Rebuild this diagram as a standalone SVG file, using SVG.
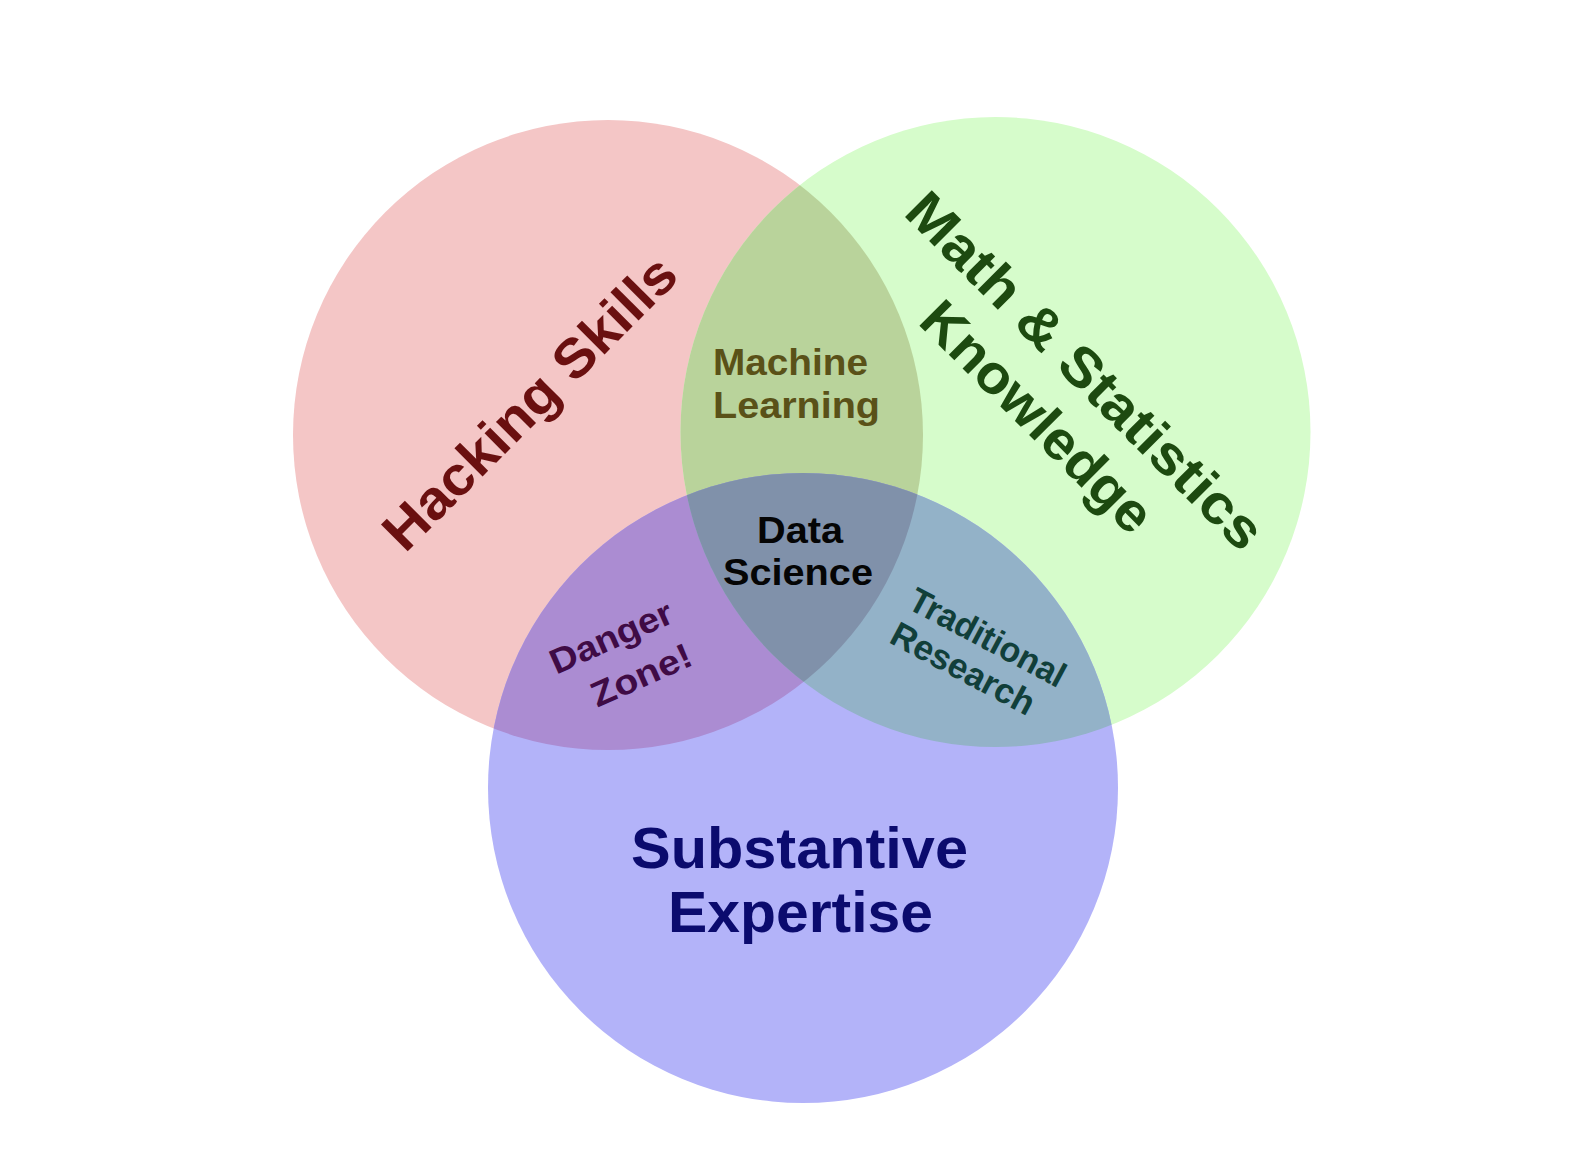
<svg xmlns="http://www.w3.org/2000/svg" width="1580" height="1172" viewBox="0 0 1580 1172">
  <style>
    text { font-family: "Liberation Sans", Arial, sans-serif; font-weight: bold; }
    .big { font-size: 55px; }
    .mid { font-size: 36px; }
    .small { font-size: 35px; }
  </style>
  <defs>
    <circle id="cR" cx="608" cy="435" r="315"/>
    <circle id="cG" cx="995.5" cy="432" r="315"/>
    <circle id="cB" cx="803" cy="788" r="315"/>
    <clipPath id="clipR"><use href="#cR"/></clipPath>
    <clipPath id="clipG"><use href="#cG"/></clipPath>
  </defs>
  <rect width="1580" height="1172" fill="#ffffff"/>

  <!-- three sets -->
  <g id="hacking">
    <use href="#cR" fill="#f4c6c6"/>
  </g>
  <g id="math">
    <use href="#cG" fill="#d6fccb"/>
  </g>
  <g id="substantive">
    <use href="#cB" fill="#b3b3f9"/>
  </g>

  <!-- pairwise overlaps -->
  <g id="machine-learning-region">
    <use href="#cG" fill="#b9d39b" clip-path="url(#clipR)"/>
  </g>
  <g id="danger-zone-region">
    <use href="#cB" fill="#ab8cd2" clip-path="url(#clipR)"/>
  </g>
  <g id="traditional-research-region">
    <use href="#cB" fill="#93b2c8" clip-path="url(#clipG)"/>
  </g>
  <!-- centre of all three -->
  <g id="data-science-region" clip-path="url(#clipG)">
    <use href="#cB" fill="#8091aa" clip-path="url(#clipR)"/>
  </g>

  <!-- labels -->
  <g id="label-hacking" transform="translate(543 416) rotate(-45)">
    <text class="big" fill="#6a1010" text-anchor="middle" textLength="390" lengthAdjust="spacingAndGlyphs">Hacking Skills</text>
  </g>
  <g id="label-math" transform="translate(1072 384) rotate(45)" fill="#1d4a10">
    <text class="big" text-anchor="middle" textLength="480" lengthAdjust="spacingAndGlyphs">Math &amp; Statistics</text>
    <text class="big" x="-1.4" y="66.5" text-anchor="middle" textLength="303" lengthAdjust="spacingAndGlyphs">Knowledge</text>
  </g>
  <g id="label-machine-learning" fill="#5a5118">
    <text class="mid" x="713" y="375" textLength="155" lengthAdjust="spacingAndGlyphs">Machine</text>
    <text class="mid" x="713" y="418" textLength="167" lengthAdjust="spacingAndGlyphs">Learning</text>
  </g>
  <g id="label-data-science" fill="#050505">
    <text class="mid" x="800" y="543" text-anchor="middle" textLength="86" lengthAdjust="spacingAndGlyphs">Data</text>
    <text class="mid" x="798" y="585" text-anchor="middle" textLength="150" lengthAdjust="spacingAndGlyphs">Science</text>
  </g>
  <g id="label-danger" transform="translate(616 648) rotate(-24)" fill="#3f0b45">
    <text class="small" text-anchor="middle" textLength="131" lengthAdjust="spacingAndGlyphs">Danger</text>
    <text class="small" x="12" y="47" text-anchor="middle" textLength="107" lengthAdjust="spacingAndGlyphs">Zone!</text>
  </g>
  <g id="label-traditional" transform="translate(982 648) rotate(28)" fill="#113f3a">
    <text class="small" text-anchor="middle" textLength="172" lengthAdjust="spacingAndGlyphs">Traditional</text>
    <text class="small" x="-7" y="39" text-anchor="middle" textLength="158" lengthAdjust="spacingAndGlyphs">Research</text>
  </g>
  <g id="label-substantive" fill="#0b0b6e">
    <text x="799.5" y="868" font-size="57" text-anchor="middle" textLength="337" lengthAdjust="spacingAndGlyphs">Substantive</text>
    <text x="800.5" y="932" font-size="57" text-anchor="middle" textLength="265" lengthAdjust="spacingAndGlyphs">Expertise</text>
  </g>
</svg>
